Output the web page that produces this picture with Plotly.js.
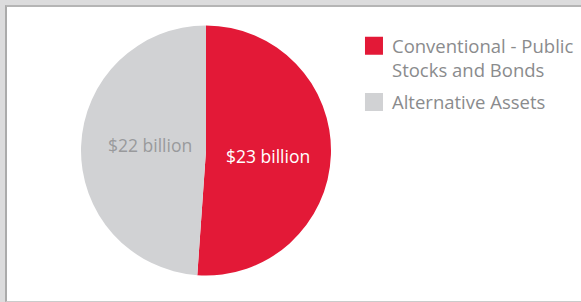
<!DOCTYPE html>
<html>
<head>
<meta charset="utf-8">
<script src="https://cdn.plot.ly/plotly-3.0.1.min.js"></script>
<style>
  html, body { margin: 0; padding: 0; background: #dcdcdd; width: 581px; height: 302px; overflow: hidden; }
  #frame { position: absolute; left: 5px; top: 5px; width: 580px; height: 294px;
           background: #ffffff; border-left: 2px solid #ababab; border-top: 2px solid #b5b5b5;
           border-bottom: 1px solid #cbcbcb; }
  #chart { width: 580px; height: 294px; }
</style>
</head>
<body>
<div id="frame"><div id="chart"></div></div>
<script>
// Data
const categories = ["Conventional - Public<br>Stocks and Bonds", "Alternative Assets"];
const values = [23, 22];               // $ billion
const sliceColors = ["#e31937", "#d1d2d4"];
const valueLabels = values.map(v => "$" + v + " billion");
const labelColors = ["#ffffff", "#999a9c"];
const labelPos = [[0.4495, 0.492], [0.2474, 0.53]];

const FONT = "'Open Sans', sans-serif";

const trace = {
  type: "pie",
  labels: categories,
  values: values,
  sort: false,
  direction: "clockwise",
  rotation: 0,
  marker: { colors: sliceColors, line: { width: 0 } },
  textinfo: "none",
  hoverinfo: "none",
  domain: { x: [74/580, 324/580], y: [25.5/294, 275.5/294] },
  showlegend: true
};

const annotations = valueLabels.map((t, i) => ({
  text: t, x: labelPos[i][0], y: labelPos[i][1], xref: "paper", yref: "paper",
  showarrow: false, xanchor: "center", yanchor: "middle",
  font: { family: FONT, size: 17.5, color: labelColors[i] }
}));

const layout = {
  width: 580, height: 294,
  margin: { l: 0, r: 0, t: 0, b: 0 },
  paper_bgcolor: "rgba(0,0,0,0)",
  plot_bgcolor: "rgba(0,0,0,0)",
  showlegend: true,
  legend: {
    x: 0.5948, y: 0.931, xanchor: "left", yanchor: "top",
    font: { family: FONT, size: 18.5, color: "#8a8b8d" },
    traceorder: "normal", bgcolor: "rgba(0,0,0,0)"
  },
  annotations: annotations
};

Plotly.newPlot("chart", [trace], layout, { displayModeBar: false, staticPlot: true }).then(gd => {
  const fs = layout.legend.font.size;
  gd.querySelectorAll(".legend .traces").forEach((tr, idx) => {
    const nLines = Math.max(1, tr.querySelectorAll("tspan.line").length);
    const off = -(nLines - 1) * fs * 1.3 / 2;
    tr.querySelectorAll(".legendpoints path").forEach(p => {
      const cx = 2, cy = off;
      p.setAttribute("d", `M${cx+9},${cy+9}H${cx-9}V${cy-9}H${cx+9}Z`);
    });
    if (idx > 0) {
      const m = /translate\(([-\d.]+)[ ,]+([-\d.]+)\)/.exec(tr.getAttribute("transform") || "");
      if (m) tr.setAttribute("transform", `translate(${m[1]},${parseFloat(m[2]) + 5})`);
    }
  });
});
</script>
</body>
</html>
